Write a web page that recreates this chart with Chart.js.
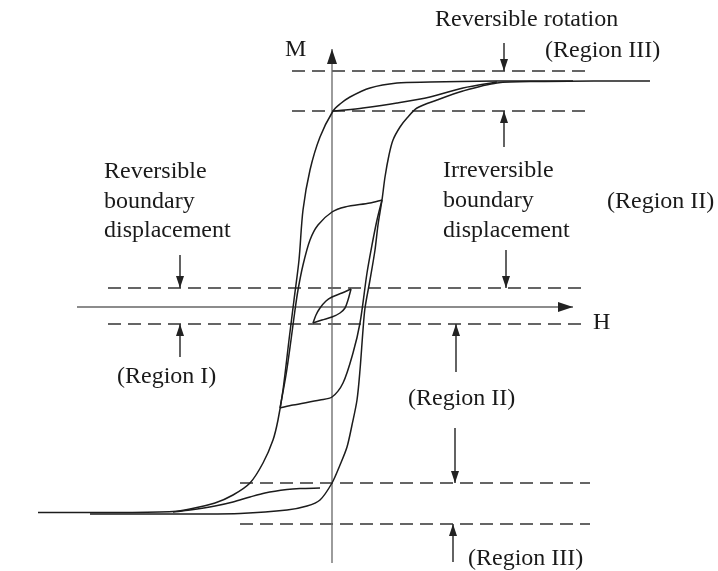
<!DOCTYPE html>
<html>
<head>
<meta charset="utf-8">
<title>Hysteresis regions</title>
<script src="https://cdn.jsdelivr.net/npm/chart.js@4.4.1/dist/chart.umd.min.js"></script>
<style>
  html, body { margin:0; padding:0; background:#fff; }
  canvas { display:block; }
</style>
</head>
<body>
<canvas id="loop" width="718" height="571"></canvas>
<script>
// curves, [H, M] pairs (arbitrary units)
const majorDown = [[24.1,22.6],[16.5,22.6],[12.8,22.55],[9.8,22.5],[6.5,22.4],[3.8,21.9],[1.8,21.0],[0.8,20.3],[0.1,19.6],
  [-1.2,17.0],[-2.2,13.7],[-2.9,9.7],[-3.3,4.7],[-3.8,0.7],[-4.3,-3.3],[-4.9,-8.3],[-5.4,-11.3],[-5.9,-13.3],
  [-6.9,-15.6],[-8.2,-17.6],[-9.9,-18.8],[-11.7,-19.6],[-14.2,-20.2],[-15.9,-20.45],[-21.2,-20.55],[-29.4,-20.55]];
const majorUp = [[-24.2,-20.7],[-13.2,-20.7],[-9.2,-20.65],[-4.5,-20.3],[-2.5,-19.9],[-1.2,-19.3],[0,-17.6],[0.8,-15.8],
  [1.5,-14.0],[2.0,-11.8],[2.5,-9.3],[2.8,-6.3],[3.1,-2.3],[3.3,-0.1],[3.8,2.7],[4.3,5.7],[4.6,8.2],[5.0,10.7],
  [5.3,13.0],[5.7,15.2],[6.1,16.7],[6.8,18.0],[7.5,18.9],[8.5,19.9],[10.5,20.7],[13.1,21.6],[16.5,22.4],
  [20.8,22.55],[26.8,22.6],[31.8,22.6]];
const recoilTop = [[0.1,19.6],[1.3,19.7],[3.1,19.9],[6.5,20.4],[9.8,21.0],[13.1,21.9],[16.5,22.5]];
const recoilBottom = [[-1.2,-18.1],[-3.2,-18.15],[-4.5,-18.25],[-6.7,-18.6],[-8.2,-19.0],[-9.9,-19.5],[-11.7,-19.9],[-14.2,-20.3],[-15.9,-20.5]];
const minorDown = [[5.0,10.7],[3.8,10.4],[1.3,10.0],[0,9.5],[-1.4,8.2],[-2.2,6.7],[-2.9,4.2],[-3.4,1.7],[-3.7,-0.3],[-4.1,-3.3],[-4.6,-6.8],[-5.2,-10.1]];
const minorUp = [[-5.2,-10.1],[-3.9,-9.8],[-1.2,-9.3],[0,-9.0],[1.1,-7.6],[2.1,-4.6],[2.8,-1.6],[3.5,3.4],[4.0,6.2],[4.5,8.7],[5.0,10.7]];
const smallUpper = [[-1.9,-1.6],[-1.6,-0.8],[-1.2,-0.1],[-0.6,0.6],[0,1.0],[1.0,1.4],[1.9,1.8]];
const smallLower = [[-1.9,-1.6],[-1.0,-1.3],[0,-1.0],[0.8,-0.6],[1.3,-0.1],[1.6,0.7],[1.9,1.8]];

// axes: [H0, M0, H1, M1], arrow at the second end
const axisLines = [[-25.5,0,24.1,0],[0,-25.6,0,25.8]];
// dashed region boundaries: [M, Hstart, Hend]
const boundaries = [[23.6,-4.0,25.5],[19.6,-4.0,25.8],[1.9,-22.4,25.1],[-1.7,-22.4,25.0],[-17.6,-9.2,25.8],[-21.7,-9.2,25.8]];
// pointer arrows: [H, Mfrom, Mto]
const pointers = [[17.2,26.4,23.6],[17.2,16.0,19.6],[17.4,5.7,1.9],[-15.2,5.2,1.9],[-15.2,-5.0,-1.7],
  [12.4,-6.5,-1.7],[12.3,-12.1,-17.6],[12.1,-25.5,-21.7]];
// labels: [text, H, M] (left edge, baseline)
const labels = [
  ['Reversible rotation',10.3,28.1],['(Region III)',21.3,25.0],['M',-4.7,25.1],
  ['Reversible',-22.8,12.9],['boundary',-22.8,9.9],['displacement',-22.8,7.0],['(Region I)',-21.5,-7.6],
  ['Irreversible',11.1,13.0],['boundary',11.1,10.0],['displacement',11.1,7.0],['(Region II)',27.5,9.9],
  ['(Region II)',7.6,-9.8],['H',26.1,-2.2],['(Region III)',13.6,-25.8]
];

const toPts = arr => arr.map(([x,y]) => ({x, y}));
const curve = d => ({data:toPts(d), showLine:true, borderColor:'#1c1c1c', borderWidth:1.5, pointRadius:0, tension:0.3, fill:false});

const datasets = [majorDown, majorUp, recoilTop, recoilBottom, minorDown, minorUp, smallUpper, smallLower].map(curve);
axisLines.forEach(a => datasets.push({data:[{x:a[0],y:a[1]},{x:a[2],y:a[3]}], showLine:true, borderColor:'#666', borderWidth:1.3, pointRadius:0}));
boundaries.forEach(b => datasets.push({data:[{x:b[1],y:b[0]},{x:b[2],y:b[0]}], showLine:true, borderColor:'#333', borderWidth:1.5, borderDash:[13,7], pointRadius:0}));
pointers.forEach(p => datasets.push({data:[{x:p[0],y:p[1]},{x:p[0],y:p[2]}], showLine:true, borderColor:'#222', borderWidth:1.4, pointRadius:0}));

function head(ctx, tx, ty, fx, fy, len, hw, color){
  const L = Math.hypot(tx-fx, ty-fy), dx = (tx-fx)/L, dy = (ty-fy)/L;
  ctx.beginPath();
  ctx.moveTo(tx, ty);
  ctx.lineTo(tx - dx*len - dy*hw, ty - dy*len + dx*hw);
  ctx.lineTo(tx - dx*len + dy*hw, ty - dy*len - dx*hw);
  ctx.closePath();
  ctx.fillStyle = color;
  ctx.fill();
}

const extras = {
  id:'extras',
  afterDatasetsDraw(chart){
    const {ctx, scales:{x, y}} = chart;
    ctx.save();
    axisLines.forEach(a => head(ctx, x.getPixelForValue(a[2]), y.getPixelForValue(a[3]),
      x.getPixelForValue(a[0]), y.getPixelForValue(a[1]), 15, 5, '#222'));
    pointers.forEach(p => head(ctx, x.getPixelForValue(p[0]), y.getPixelForValue(p[2]),
      x.getPixelForValue(p[0]), y.getPixelForValue(p[1]), 12, 4, '#222'));
    ctx.fillStyle = '#1a1a1a';
    ctx.font = '24px "Liberation Serif", "Times New Roman", serif';
    ctx.textAlign = 'left';
    ctx.textBaseline = 'alphabetic';
    labels.forEach(([t, h, m]) => ctx.fillText(t, x.getPixelForValue(h), y.getPixelForValue(m)));
    ctx.restore();
  }
};

new Chart(document.getElementById('loop'), {
  type:'scatter',
  data:{datasets},
  options:{
    responsive:false,
    animation:false,
    events:[],
    layout:{padding:0},
    plugins:{legend:{display:false}, tooltip:{enabled:false}},
    scales:{
      x:{type:'linear', min:-33.2, max:38.6, display:false},
      y:{type:'linear', min:-26.4, max:30.7, display:false}
    }
  },
  plugins:[extras]
});
</script>
</body>
</html>
